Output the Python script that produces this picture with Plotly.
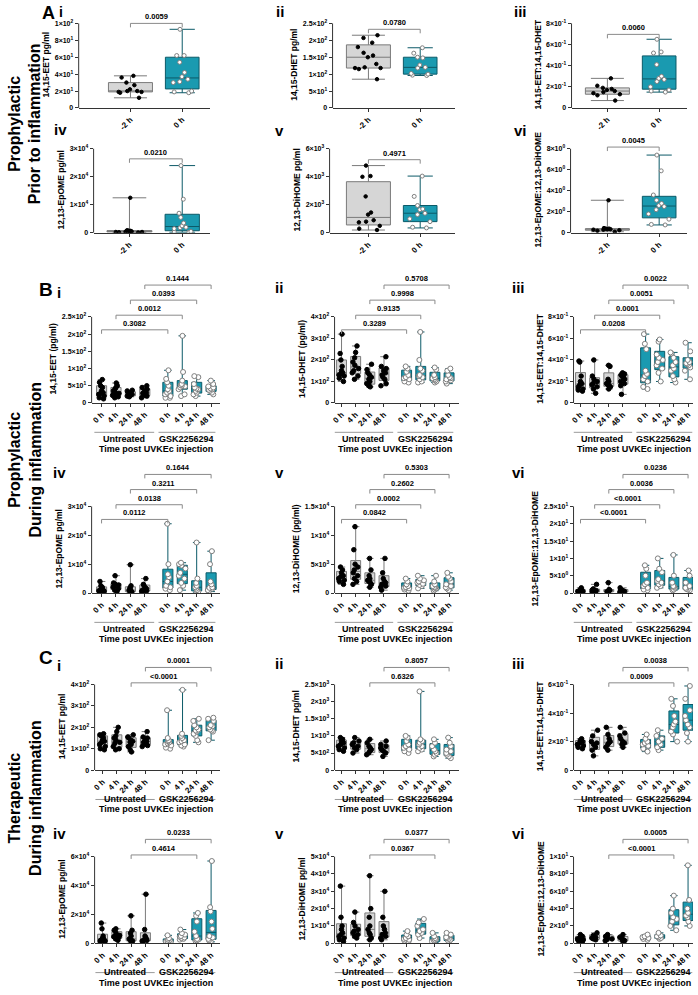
import numpy as np
import plotly.graph_objects as go

FONT = "Liberation Sans, Arial, sans-serif"
W, H = 698, 995

TIMES = ["0 h", "4 h", "24 h", "48 h"]
A_CATS = ["-2 h", "0 h"]
GROUP_NAMES = ["Untreated", "GSK2256294"]
X_TITLE = "Time post UVKEc injection"

# ---------------- Panel A (prior to inflammation): -2 h vs 0 h ----------------
A_i_pre = [38, 36, 30, 27, 22, 20, 20, 19, 19, 18, 12]
A_i_post = [93, 62, 62, 54, 42, 37, 34, 31, 30, 20, 19, 18]
A_ii_pre = [215, 207, 193, 180, 163, 155, 150, 130, 120, 118, 118, 115, 85]
A_ii_post = [178, 162, 150, 148, 127, 120, 118, 102, 100, 97, 96]
A_iii_pre = [0.28, 0.21, 0.19, 0.18, 0.17, 0.16, 0.15, 0.14, 0.13, 0.12, 0.07]
A_iii_post = [0.65, 0.52, 0.53, 0.41, 0.30, 0.28, 0.27, 0.25, 0.20, 0.17, 0.16, 0.15]
A_iv_pre = [12500, 900, 800, 700, 600, 500, 400, 300, 300, 200, 100]
A_iv_post = [24000, 12000, 7000, 5500, 3500, 2500, 2000, 1800, 1500, 500, 300, 200]
A_v_pre = [4800, 4050, 4000, 2600, 1450, 1300, 900, 800, 750, 500, 300, 200]
A_v_post = [4050, 2600, 1950, 1700, 1650, 1400, 1300, 1000, 800, 400, 350]
A_vi_pre = [3.1, 0.45, 0.4, 0.4, 0.35, 0.35, 0.3, 0.3, 0.25, 0.2, 0.1]
A_vi_post = [7.4, 5.9, 3.6, 3.1, 2.8, 2.6, 2.5, 2.2, 1.8, 1.3, 0.8, 0.75]
A_pvals = ["0.0059", "0.0780", "0.0060", "0.0210", "0.4971", "0.0045"]

# ---------------- Panel B (prophylactic, during inflammation) ----------------
B_i_U = [[68, 60, 50, 45, 35, 30, 28, 25, 20, 15, 12],
         [58, 50, 45, 40, 35, 30, 28, 25, 22, 18, 15],
         [37, 35, 30, 28, 25, 24, 22, 20, 18],
         [50, 45, 40, 35, 30, 28, 25, 22, 20, 15]]
B_i_G = [[95, 70, 60, 50, 40, 35, 30, 25, 20, 15, 15],
         [195, 90, 65, 55, 52, 50, 48, 45, 40, 25, 20],
         [78, 75, 55, 45, 42, 40, 35, 30, 25, 20],
         [65, 55, 48, 45, 42, 40, 38, 35, 30, 25]]
B_i_p = ["0.3082", "0.0012", "0.0393", "0.1444"]

B_ii_U = [[320, 230, 200, 170, 150, 140, 135, 130, 125, 115, 100],
          [265, 235, 210, 190, 175, 160, 150, 140, 125, 110],
          [180, 155, 140, 130, 120, 110, 100, 90, 80, 75],
          [215, 170, 160, 150, 140, 130, 120, 110, 90, 80]]
B_ii_G = [[170, 160, 145, 130, 120, 115, 110, 100, 95],
          [330, 200, 160, 150, 130, 125, 120, 110, 100, 95],
          [165, 155, 130, 120, 115, 110, 105, 100, 95],
          [160, 150, 130, 120, 115, 110, 105, 100, 90]]
B_ii_p = ["0.3289", "0.9135", "0.9998", "0.5708"]

B_iii_U = [[0.39, 0.38, 0.25, 0.20, 0.18, 0.17, 0.15, 0.13, 0.12, 0.11],
           [0.40, 0.25, 0.22, 0.20, 0.18, 0.17, 0.15, 0.13, 0.09],
           [0.35, 0.34, 0.22, 0.20, 0.18, 0.17, 0.16, 0.15, 0.13],
           [0.28, 0.27, 0.26, 0.25, 0.24, 0.22, 0.20, 0.18, 0.16, 0.08]]
B_iii_G = [[0.64, 0.55, 0.50, 0.30, 0.27, 0.25, 0.22, 0.20, 0.15, 0.13],
           [0.59, 0.57, 0.45, 0.42, 0.40, 0.38, 0.35, 0.32, 0.28, 0.20],
           [0.47, 0.46, 0.42, 0.38, 0.35, 0.32, 0.30, 0.25, 0.22, 0.19],
           [0.56, 0.48, 0.40, 0.38, 0.37, 0.36, 0.35, 0.33, 0.30, 0.22]]
B_iii_p = ["0.0208", "0.0001", "0.0051", "0.0022"]

B_iv_U = [[4000, 2500, 2000, 1500, 1200, 1000, 800, 600, 400, 200],
          [6000, 3500, 3000, 2800, 2500, 2000, 1500, 1000, 500],
          [9800, 2500, 1800, 1200, 1000, 800, 600, 400, 200],
          [5000, 3000, 2500, 1800, 1500, 1000, 800, 600, 400]]
B_iv_G = [[24000, 10000, 6500, 5500, 4000, 2500, 2000, 1500, 1000],
          [10500, 10000, 9500, 8500, 7000, 6000, 5000, 3500, 2500, 1000],
          [17500, 5000, 3500, 2500, 2000, 1500, 1000, 500, 300],
          [14500, 10000, 4000, 3000, 2000, 1800, 1500, 1000, 500]]
B_iv_p = ["0.0112", "0.0138", "0.3211", "0.1644"]

B_v_U = [[4500, 4000, 3500, 3000, 2800, 2500, 2200, 2000, 1500],
         [11500, 7500, 5000, 4500, 4000, 3500, 3000, 2500, 2000, 1500],
         [6000, 4000, 3000, 2500, 2200, 2000, 1800, 1500, 1000],
         [6000, 3500, 2500, 2000, 1800, 1500, 1200, 1000, 500]]
B_v_G = [[2500, 2000, 1500, 1200, 1000, 900, 800, 600, 400],
         [3000, 2500, 2200, 2000, 1800, 1600, 1400, 1200, 800],
         [3000, 2000, 1500, 1200, 1000, 900, 800, 600, 400],
         [3500, 2800, 2500, 2000, 1500, 1200, 1000, 800, 500]]
B_v_p = ["0.0842", "0.0002", "0.2602", "0.5303"]

B_vi_U = [[1.5, 1.0, 0.8, 0.6, 0.5, 0.4, 0.3, 0.2],
          [2.5, 1.2, 0.9, 0.7, 0.5, 0.4, 0.3, 0.2],
          [3.0, 1.0, 0.8, 0.6, 0.5, 0.4, 0.3],
          [1.5, 1.0, 0.7, 0.5, 0.4, 0.3, 0.2]]
B_vi_G = [[8.0, 7.0, 5.0, 3.0, 2.5, 2.0, 1.5, 1.0, 0.8],
          [10.0, 7.0, 6.0, 4.0, 3.5, 3.0, 2.5, 2.0, 1.5],
          [11.0, 5.0, 3.0, 2.0, 1.8, 1.5, 1.0, 0.8],
          [6.5, 5.0, 3.0, 2.0, 1.5, 1.2, 1.0, 0.8]]
B_vi_p = ["<0.0001", "<0.0001", "0.0036", "0.0236"]

# ---------------- Panel C (therapeutic, during inflammation) ----------------
C_i_U = [[170, 165, 160, 150, 140, 135, 130, 120, 110, 100, 95],
         [200, 180, 160, 150, 140, 130, 125, 110, 100, 95],
         [165, 155, 150, 140, 135, 130, 120, 110, 95, 85],
         [180, 155, 150, 140, 135, 130, 125, 120, 115, 110]]
C_i_G = [[280, 150, 140, 135, 130, 125, 120, 115, 105, 100],
         [375, 170, 160, 150, 140, 135, 130, 120, 115, 110],
         [240, 230, 210, 200, 190, 185, 180, 170, 160, 140, 130],
         [245, 240, 230, 210, 205, 200, 190, 185, 180, 140]]
C_i_p = ["<0.0001", "0.0001"]

C_ii_U = [[950, 900, 850, 800, 750, 700, 650, 600, 550],
          [950, 850, 800, 750, 700, 650, 600, 500],
          [900, 800, 700, 650, 600, 550, 500, 450],
          [850, 750, 700, 650, 600, 550, 500, 400]]
C_ii_G = [[1000, 950, 850, 750, 700, 650, 600, 550, 500],
          [2300, 900, 850, 800, 750, 700, 650, 600, 550],
          [900, 800, 700, 600, 550, 500, 450, 400],
          [950, 800, 700, 600, 550, 500, 450, 400, 350]]
C_ii_p = ["0.6326", "0.8057"]

C_iii_U = [[0.22, 0.21, 0.20, 0.19, 0.18, 0.17, 0.16, 0.15],
           [0.28, 0.24, 0.20, 0.19, 0.18, 0.16, 0.14, 0.10],
           [0.30, 0.25, 0.22, 0.20, 0.19, 0.18, 0.16, 0.14],
           [0.30, 0.26, 0.24, 0.22, 0.20, 0.19, 0.18, 0.16]]
C_iii_G = [[0.25, 0.22, 0.20, 0.19, 0.18, 0.17, 0.15, 0.13],
           [0.28, 0.24, 0.22, 0.20, 0.18, 0.16, 0.14],
           [0.50, 0.45, 0.38, 0.34, 0.32, 0.30, 0.27, 0.25, 0.20],
           [0.59, 0.50, 0.42, 0.38, 0.35, 0.32, 0.30, 0.26, 0.20]]
C_iii_p = ["0.0009", "0.0038"]

C_iv_U = [[14000, 10000, 5000, 3500, 3000, 2500, 2000, 1500, 1000, 500],
          [10000, 9000, 7000, 5500, 5000, 4500, 4000, 3000, 2000],
          [19000, 9000, 7000, 5000, 3000, 2500, 2000, 1500, 1000],
          [34000, 9500, 5000, 4000, 3000, 2500, 2000, 1500, 1000]]
C_iv_G = [[5500, 3500, 2500, 2000, 1500, 1200, 1000, 800, 500],
          [9500, 7000, 6000, 5000, 4500, 4000, 3500, 3000, 2500],
          [21000, 19000, 15000, 8000, 5000, 3000, 2500, 2000, 1500],
          [57000, 25000, 22000, 15000, 10000, 5000, 4000, 3000, 2000, 1000]]
C_iv_p = ["0.4614", "0.0233"]

C_v_U = [[33000, 15000, 10000, 8000, 6000, 5000, 4000, 3000, 2000, 1000],
         [18000, 12000, 10000, 8000, 7000, 6000, 5000, 4000, 3000],
         [39000, 20000, 15000, 10000, 8000, 6000, 5000, 3000, 2000],
         [30000, 15000, 10000, 8000, 6000, 5000, 4000, 3000, 2000]]
C_v_G = [[7000, 5000, 4000, 3000, 2500, 2000, 1500, 1000],
         [14000, 12000, 10000, 8000, 7000, 6000, 5000, 3000],
         [6000, 4000, 3000, 2500, 2000, 1500, 1000, 500],
         [6000, 5000, 3500, 3000, 2500, 2000, 1500, 1000]]
C_v_p = ["0.0367", "0.0377"]

C_vi_U = [[1.0, 0.8, 0.6, 0.5, 0.4, 0.3, 0.2],
          [1.2, 0.9, 0.7, 0.6, 0.5, 0.4],
          [1.0, 0.8, 0.6, 0.5, 0.4, 0.3],
          [1.0, 0.7, 0.5, 0.4, 0.3, 0.2]]
C_vi_G = [[1.0, 0.8, 0.7, 0.6, 0.5, 0.4],
          [1.2, 0.9, 0.8, 0.7, 0.6, 0.5],
          [5.5, 4.0, 3.5, 3.0, 2.8, 2.5, 2.0, 1.5],
          [9.0, 5.0, 4.0, 3.5, 3.2, 3.0, 2.5, 2.0]]
C_vi_p = ["<0.0001", "0.0005"]

# ---------------- y-axis titles and ticks ----------------
TITLES = ["14,15-EET pg/ml", "14,15-DHET pg/ml", "14,15-EET:14,15-DHET",
          "12,13-EpOME pg/ml", "12,13-DiHOME pg/ml", "12,13-EpOME:12,13-DiHOME",
          "14,15-EET (pg/ml)", "14,15-DHET (pg/ml)", "14,15-EET:14,15-DHET",
          "12,13-EpOME pg/ml", "12,13-DiHOME (pg/ml)", "12,13-EpOME:12,13-DiHOME",
          "14,15-EET pg/ml", "14,15-DHET pg/ml", "14,15-EET:14,15-DHET",
          "12,13-EpOME pg/ml", "12,13-DiHOME pg/ml", "12,13-EpOME:12,13-DiHOME"]
TICKS = [
    [0, 20, 40, 60, 80, 100],
    [0, 50, 100, 150, 200, 250],
    [0, 0.2, 0.4, 0.6, 0.8],
    [0, 10000, 20000, 30000],
    [0, 2000, 4000, 6000],
    [0, 2, 4, 6, 8],
    [0, 50, 100, 150, 200, 250],
    [0, 100, 200, 300, 400],
    [0, 0.2, 0.4, 0.6, 0.8],
    [0, 10000, 20000, 30000],
    [0, 5000, 10000, 15000],
    [0, 5, 10, 15, 20, 25],
    [0, 100, 200, 300, 400],
    [0, 500, 1000, 1500, 2000, 2500],
    [0, 0.2, 0.4, 0.6],
    [0, 20000, 40000, 60000],
    [0, 10000, 20000, 30000, 40000, 50000],
    [0, 2, 4, 6, 8, 10],
]

A_DATA = [(A_i_pre, A_i_post), (A_ii_pre, A_ii_post), (A_iii_pre, A_iii_post),
          (A_iv_pre, A_iv_post), (A_v_pre, A_v_post), (A_vi_pre, A_vi_post)]
BC_DATA = [(B_i_U, B_i_G, B_i_p), (B_ii_U, B_ii_G, B_ii_p), (B_iii_U, B_iii_G, B_iii_p),
           (B_iv_U, B_iv_G, B_iv_p), (B_v_U, B_v_G, B_v_p), (B_vi_U, B_vi_G, B_vi_p),
           (C_i_U, C_i_G, C_i_p), (C_ii_U, C_ii_G, C_ii_p), (C_iii_U, C_iii_G, C_iii_p),
           (C_iv_U, C_iv_G, C_iv_p), (C_v_U, C_v_G, C_v_p), (C_vi_U, C_vi_G, C_vi_p)]

# ---------------- styling / geometry (pixels) ----------------
U_FILL, U_LINE = "#d6d6d6", "#7a7a7a"
G_FILL, G_LINE = "#1a9ab0", "#0c5a68"
AX = "#333333"
BR = "#8a8a8a"

# L, R, first-cat px, last-cat px
COLS_A = [[(76, 208, 128, 180), (331, 454, 367, 419), (571, 687, 607, 659)],
          [(91, 208, 127, 180), (328, 454, 367, 419), (570, 687, 607, 659)]]
COLS_B = [(89, 218, 99, 209), (333, 458, 340, 448), (573, 693, 580, 688)]
COLS_C = [(92, 218, 100, 209), (333, 458, 340, 448), (573, 693, 580, 688)]
# zero px, top-tick px
ROWS = [(106.5, 21.5), (232, 147.5), (403, 316.5), (594, 507), (772, 686), (946, 859)]
A_LEVELS = [1.0, 0.93, 0.87, 0.88, 0.87, 1.02]
B_LEVELS = [0.85, 1.02, 1.195, 1.37]
C_LEVELS = [1.02, 1.2]

POS_U = [0, 1, 2, 3]
POS_G = [4.6, 5.6, 6.6, 7.6]


def sci(v):
    if v == 0:
        return "0"
    e = int(np.floor(np.log10(abs(v)) + 1e-9))
    m = v / 10 ** e
    return f"{m:g}×10<sup>{e}</sup>"


def stats(vals):
    a = np.asarray(vals, float)
    return (float(np.percentile(a, 25, method="weibull")), float(np.median(a)),
            float(np.percentile(a, 75, method="weibull")), float(a.min()), float(a.max()))


fig = go.Figure()
shapes, annos = [], []
layout = {}


def px2x(p):
    return p / W


def px2y(p):
    return 1 - p / H


def add_boxes(k, positions, groups, fill, line, width, pt_color, pt_fill, pt_size):
    st = [stats(g) for g in groups]
    fig.add_trace(go.Box(
        x=positions, q1=[s[0] for s in st], median=[s[1] for s in st], q3=[s[2] for s in st],
        lowerfence=[s[3] for s in st], upperfence=[s[4] for s in st],
        orientation="v", boxpoints=False, fillcolor=fill, width=width, whiskerwidth=0.75,
        line=dict(color=line, width=1), xaxis=f"x{k}", yaxis=f"y{k}",
        showlegend=False, hoverinfo="skip"))
    xs, ys = [], []
    for p, g in zip(positions, groups):
        xs += [p] * len(g)
        ys += list(g)
    fig.add_trace(go.Box(
        x=xs, y=ys, orientation="v", boxpoints="all", jitter=0.75, pointpos=0,
        fillcolor="rgba(0,0,0,0)", line=dict(color="rgba(0,0,0,0)", width=0), width=width,
        marker=dict(color=pt_fill, size=pt_size, line=dict(color=pt_color, width=1)),
        xaxis=f"x{k}", yaxis=f"y{k}", showlegend=False, hoverinfo="skip"))


def setup_axes(k, L, R, p0, p1, pos0, pos1, Z, T, ticks, title, tickvals, ticktext):
    unit = (p1 - p0) / (pos1 - pos0)
    xr = [pos0 + (L - p0) / unit, pos1 + (R - p1) / unit]
    top = ticks[-1]
    sfx = "" if k == 1 else str(k)
    layout[f"xaxis{sfx}"] = dict(
        domain=[px2x(L), px2x(R)], anchor=f"y{sfx}", range=xr, showgrid=False, zeroline=False,
        showline=True, linecolor=AX, linewidth=1, ticks="outside", ticklen=3, tickcolor=AX,
        tickvals=tickvals, ticktext=ticktext, tickangle=-45,
        tickfont=dict(family=FONT, size=8, color="black", weight="bold"), fixedrange=True)
    layout[f"yaxis{sfx}"] = dict(
        domain=[px2y(Z), px2y(T - 2)], anchor=f"x{sfx}", range=[0, top * (Z - T + 2) / (Z - T)],
        showgrid=False, zeroline=False, showline=False, ticks="outside", ticklen=3,
        tickcolor=AX, tickvals=ticks, ticktext=[sci(t) for t in ticks],
        tickfont=dict(family=FONT, size=7, color="black", weight="bold"),
        title=dict(text=title, font=dict(family=FONT, size=8.5, color="black", weight="bold"),
                   standoff=3), fixedrange=True)
    xd = "x domain" if k == 1 else f"x{k} domain"
    shapes.append(dict(type="line", xref=xd, yref=f"y{k}", x0=0, x1=0, y0=0, y1=top,
                       line=dict(color=AX, width=1)))


def bracket(k, xa, xb, Z, T, level, label):
    yp = Z - level * (Z - T)
    y = px2y(yp)
    yd = px2y(yp + 4)
    shapes.append(dict(type="path", xref=f"x{k}", yref="paper",
                       path=f"M {xa},{yd} L {xa},{y} L {xb},{y} L {xb},{yd}",
                       line=dict(color=BR, width=1)))
    annos.append(dict(x=(xa + xb) / 2, y=y, xref=f"x{k}", yref="paper", text=label,
                      showarrow=False, yanchor="bottom", yshift=0,
                      font=dict(family=FONT, size=7.5, color="black", weight="bold")))


k = 0
# ---- A panels ----
for i, (pre, post) in enumerate(A_DATA):
    k += 1
    r, c = divmod(i, 3)
    L, R, p0, p1 = COLS_A[r][c]
    Z, T = ROWS[r]
    setup_axes(k, L, R, p0, p1, 0, 1, Z, T, TICKS[i], TITLES[i], [0, 1], A_CATS)
    add_boxes(k, [0], [pre], U_FILL, U_LINE, 0.85, "black", "black", 3.5)
    add_boxes(k, [1], [post], G_FILL, G_LINE, 0.65, "#7f7f7f", "white", 4)
    bracket(k, 0, 1, Z, T, A_LEVELS[i], A_pvals[i])

# ---- B and C panels ----
for j, (U, G, pv) in enumerate(BC_DATA):
    k += 1
    i = 6 + j
    r, c = divmod(j, 3)
    isB = r < 2
    L, R, p0, p1 = (COLS_B if isB else COLS_C)[c]
    Z, T = ROWS[2 + r]
    levels = B_LEVELS if isB else C_LEVELS
    setup_axes(k, L, R, p0, p1, POS_U[0], POS_G[-1], Z, T, TICKS[i], TITLES[i],
               POS_U + POS_G, TIMES + TIMES)
    add_boxes(k, POS_U, U, U_FILL, U_LINE, 0.7, "black", "black", 4.5)
    add_boxes(k, POS_G, G, G_FILL, G_LINE, 0.7, "#7f7f7f", "white", 5)
    if isB:
        pairs = list(zip(POS_U, POS_G))
    else:
        pairs = list(zip(POS_U[2:], POS_G[2:]))
    for (xa, xb), lev, lab in zip(pairs, levels, pv):
        bracket(k, xa, xb, Z, T, lev, lab)
    # group lines and labels under x-axis
    yl = px2y(Z + 29.5)
    shapes.append(dict(type="line", xref=f"x{k}", yref="paper", x0=-0.5, x1=3.65, y0=yl, y1=yl,
                       line=dict(color="#9a9a9a", width=1)))
    shapes.append(dict(type="line", xref=f"x{k}", yref="paper", x0=3.95, x1=7.9, y0=yl, y1=yl,
                       line=dict(color="#9a9a9a", width=1)))
    for xc, nm in [(1.55, GROUP_NAMES[0]), (5.9, GROUP_NAMES[1])]:
        annos.append(dict(x=xc, y=px2y(Z + 36), xref=f"x{k}", yref="paper", text=nm,
                          showarrow=False, font=dict(family=FONT, size=9, color="black", weight="bold")))
    annos.append(dict(x=3.75, y=px2y(Z + 46.5), xref=f"x{k}", yref="paper", text=X_TITLE,
                      showarrow=False, font=dict(family=FONT, size=9, color="black", weight="bold")))

# ---- panel letters / roman numerals ----
def txt(xp, yp, s, size, angle=0):
    annos.append(dict(x=px2x(xp), y=px2y(yp), xref="paper", yref="paper", text=s, showarrow=False,
                      textangle=angle, xanchor="center", yanchor="middle",
                      font=dict(family=FONT, size=size, color="black", weight="bold")))

txt(46, 11, "A", 18)
txt(58.5, 10, "i", 14)
txt(278, 10, "ii", 15)
txt(520, 10, "iii", 15)
txt(58, 128, "iv", 15)
txt(278, 129, "v", 15)
txt(520, 129, "vi", 15)
txt(43, 289, "B", 19)
txt(56, 292, "i", 15)
txt(277, 287, "ii", 15)
txt(518, 287, "iii", 15)
txt(57, 473, "iv", 15)
txt(278, 473, "v", 15)
txt(518, 473, "vi", 15)
txt(43, 659, "C", 19)
txt(56, 667, "i", 15)
txt(277, 665, "ii", 15)
txt(518, 665, "iii", 15)
txt(57, 836, "iv", 15)
txt(278, 836, "v", 15)
txt(518, 836, "vi", 15)

SIDE = ["Prophylactic<br>Prior to inflammation", "Prophylactic<br>During inflammation",
        "Therapeutic<br>During inflammation"]
for s, yc in zip(SIDE, [122, 460, 800]):
    txt(22, yc, s, 16, angle=-90)

fig.update_layout(width=W, height=H, margin=dict(l=0, r=0, t=0, b=0), paper_bgcolor="white",
                  plot_bgcolor="white", boxmode="overlay", shapes=shapes, annotations=annos,
                  font=dict(family=FONT), **layout)
fig.write_html("out.html")
